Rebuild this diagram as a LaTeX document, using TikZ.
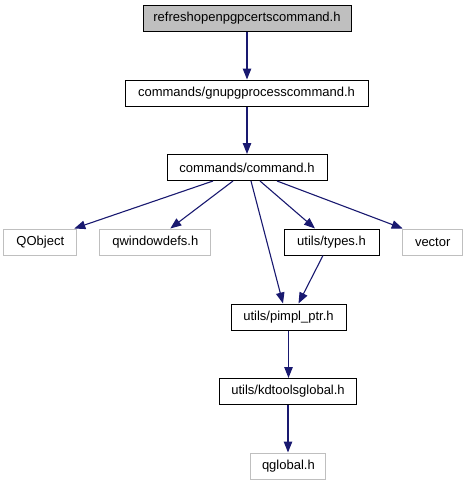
\documentclass[tikz,border=0pt]{standalone}
\usepackage{fontspec}
\setmainfont{Liberation Sans}
\usetikzlibrary{arrows.meta}
\definecolor{edgeblue}{HTML}{191970}
\definecolor{extgray}{HTML}{BFBFBF}
\tikzset{
  file/.style={draw=black, line width=1pt, minimum height=26pt, inner xsep=0pt, inner ysep=0pt, font=\fontsize{13pt}{15pt}\selectfont, anchor=center},
  extfile/.style={file, draw=extgray},
  dep/.style={draw=edgeblue, line width=1.1pt, -{Triangle[length=11pt,width=8.5pt]}}
}
\begin{document}
\begin{tikzpicture}[x=1pt,y=-1pt]
\useasboundingbox (0,0) rectangle (466,485);
\node[file, fill=extgray, minimum width=208pt] (top) at (247,18.4) {refreshopenpgpcertscommand.h};
\node[file, minimum width=243pt] (gnupg) at (246.5,93) {commands/gnupgprocesscommand.h};
\node[file, minimum width=160pt] (cmd) at (247,167.5) {commands/command.h};
\node[extfile, minimum width=73pt] (qobj) at (40.3,242) {QObject};
\node[extfile, minimum width=111pt] (qwin) at (155.3,242) {qwindowdefs.h};
\node[file, minimum width=95pt] (types) at (331.5,242) {utils/types.h};
\node[extfile, minimum width=60pt] (vec) at (432.7,242) {vector};
\node[file, minimum width=115pt] (pimpl) at (288.5,317) {utils/pimpl\_ptr.h};
\node[file, minimum width=137pt] (kdt) at (288,391.5) {utils/kdtoolsglobal.h};
\node[extfile, minimum width=75pt] (qg) at (288.4,466) {qglobal.h};

\draw[dep] (top.south) -- (top.south |- gnupg.north);
\draw[dep] (cmd.north |- gnupg.south) -- (cmd.north);
\draw[dep] ([xshift=-34pt]cmd.south) -- ([xshift=34pt]qobj.north);
\draw[dep] ([xshift=-14pt]cmd.south) -- ([xshift=15pt]qwin.north);
\draw[dep] ([xshift=4pt]cmd.south) -- ([xshift=-5.5pt]pimpl.north);
\draw[dep] ([xshift=13pt]cmd.south) -- ([xshift=-16.5pt]types.north);
\draw[dep] ([xshift=30pt]cmd.south) -- ([xshift=-30pt]vec.north);
\draw[dep] ([xshift=-8.5pt]types.south) -- ([xshift=10pt]pimpl.north);
\draw[dep] (pimpl.south) -- (pimpl.south |- kdt.north);
\draw[dep] (kdt.south) -- (kdt.south |- qg.north);
\end{tikzpicture}
\end{document}
